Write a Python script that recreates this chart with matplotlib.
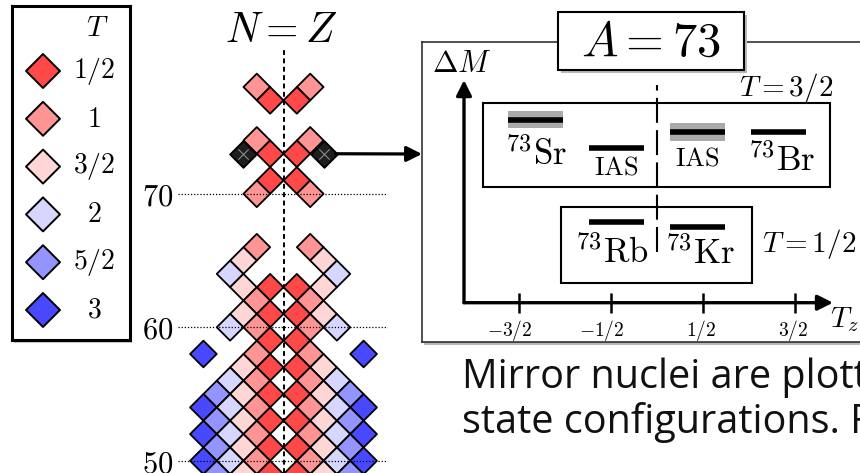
import numpy as np
import matplotlib.pyplot as plt
from matplotlib.patches import Rectangle

plt.rcParams['mathtext.fontset'] = 'cm'

# isospin chart: for each mass number A, the N-Z values drawn (N=Z cells left blank)
A_rows = [78, 77, 74, 73, 71, 70, 66, 65, 64, 63, 62, 61, 60, 59, 58, 57,
          56, 55, 54, 53, 52, 51, 50, 49]
nz_rows = [[-2, 2], [-1, 1], [-2, 2], [-1, 1], [-1, 1], [-2, 2],
           [-2, 2], [-3, 3], [-4, 4], [-3, -1, 1, 3], [-2, 2], [-3, -1, 1, 3],
           [-4, -2, 2, 4], [-1, 1], [-6, -2, 2, 6], [-3, -1, 1, 3],
           [-4, -2, 2, 4], [-5, -3, -1, 1, 3, 5], [-6, -4, -2, 2, 4, 6],
           [-5, -3, -1, 1, 3, 5], [-6, -4, -2, 2, 4, 6], [-5, -3, -1, 1, 3, 5],
           [-6, -4, -2, 2, 4, 6], [-5, -3, -1, 1, 3, 5]]
# highlighted pair 73Sr / 73Br
hl_nz = [-3, 3]
hl_A = [73, 73]

T_vals = [0.5, 1, 1.5, 2, 2.5, 3]
T_labels = ['1/2', '1', '3/2', '2', '5/2', '3']
T_colors = ['#ff4848', '#ff9494', '#ffd6d6', '#d6d6ff', '#9494ff', '#4848ff']
A_ticks = [50, 60, 70]

# A = 73 mass levels (Tz position, Delta M in arb. units, uncertainty)
lvl_names = [r'{}^{73}\mathrm{Sr}', r'\mathrm{IAS}', r'\mathrm{IAS}',
             r'{}^{73}\mathrm{Br}', r'{}^{73}\mathrm{Rb}', r'{}^{73}\mathrm{Kr}']
lvl_tz = [-1.32, -0.44, 0.44, 1.32, -0.44, 0.44]
lvl_dm = [1.99, 1.68, 1.853, 1.853, 0.88, 0.826]
lvl_err = [0.09, 0.0, 0.096, 0.0, 0.0, 0.0]
tz_ticks = [-1.5, -0.5, 0.5, 1.5]
tz_labels = ['$-3/2$', '$-1/2$', '$1/2$', '$3/2$']

W, H = 860, 473


def fbox(x0, y0, x1, y1):
    # pixel box (origin top left) -> figure fraction rect
    return [x0 / W, 1 - y1 / H, (x1 - x0) / W, (y1 - y0) / H]


fig = plt.figure(figsize=(W / 100, H / 100), dpi=100)

# ---- legend panel
shadow = Rectangle((14 / W, 1 - 343 / H), 118 / W, 334 / H, transform=fig.transFigure,
                   fc='#c8c8c8', ec='none', zorder=-1)
fig.add_artist(shadow)
axl = fig.add_axes(fbox(12, 6, 130, 340))
axl.set_xlim(-0.608, 1.706)
axl.set_ylim(5.628, -1.36)
idx = np.arange(len(T_vals))
s_leg = (34 * 72 / fig.dpi / np.sqrt(2)) ** 2
axl.scatter(np.zeros(len(idx)), idx, s=s_leg, marker='D', c=T_colors,
            edgecolors='k', linewidths=1.4)
for i, lab in enumerate(T_labels):
    axl.text(1, i, f'${lab}$', ha='center', va='center', fontsize=20)
axl.text(1.07, -0.9, '$T$', ha='center', va='center', fontsize=21)
axl.set_xticks([])
axl.set_yticks([])
for sp in axl.spines.values():
    sp.set_linewidth(2.2)

# ---- rotated nuclear chart
ax = fig.add_axes(fbox(178, 48, 388, 473))
ax.set_zorder(2)
k, cx, cy = 13.35, 283.5, 327.3
ax.set_xlim((178 - cx) / k, (388 - cx) / k)
ax.set_ylim(60 - (473 - cy) / k, 60 + (cy - 48) / k)
s_cell = (2 * k * 72 / fig.dpi / np.sqrt(2)) ** 2

cell_x = [x for row in nz_rows for x in row]
cell_A = [a for a, row in zip(A_rows, nz_rows) for _ in row]
cell_c = [T_colors[T_vals.index(abs(x) / 2)] for x in cell_x]
ax.scatter(cell_x, cell_A, s=s_cell, marker='D', c=cell_c, edgecolors='k',
           linewidths=1.3, zorder=2)
ax.scatter(hl_nz, hl_A, s=s_cell, marker='D', c='#1e1e1e', edgecolors='k',
           linewidths=1.3, zorder=2)
ax.scatter(hl_nz, hl_A, s=s_cell * 0.3, marker='x', c='#8a8a8a', linewidths=0.8, zorder=2)

ax.set_yticks(A_ticks)
ax.set_yticklabels([f'${a}$' for a in A_ticks], fontsize=22)
ax.set_xticks([])
ax.tick_params(axis='y', length=0, pad=3.5)
ax.set_axisbelow(False)
ax.grid(axis='y', color='k', ls=(0, (1, 1.5)), lw=0.9)
for sp in ax.spines.values():
    sp.set_visible(False)
ax.patch.set_visible(False)
ax.axvline(0, color='k', ls=(0, (2.5, 1.8)), lw=1.4, zorder=3)
fig.text(281 / W, 1 - 42 / H, '$N = Z$', ha='center', va='baseline', fontsize=30)

# ---- A = 73 panel
shadow_r = Rectangle((424 / W, 1 - 345 / H), 460 / W, 300 / H, transform=fig.transFigure,
                     fc='#b8b8b8', ec='none', zorder=-1)
fig.add_artist(shadow_r)
axr = fig.add_axes(fbox(422, 42, 880, 342))
u, ox, oy = 92, 657, 302.7
axr.set_xlim((422 - ox) / u, (880 - ox) / u)
axr.set_ylim((oy - 342) / u, (oy - 42) / u)
axr.set_xticks([])
axr.set_yticks([])
for sp in axr.spines.values():
    sp.set_linewidth(1.1)
    sp.set_color('#222222')

x0 = (464 - ox) / u
arr = dict(arrowstyle='-|>', lw=2.4, color='k', mutation_scale=23, shrinkA=0, shrinkB=0)
axr.annotate('', xy=(x0, 2.42), xytext=(x0, 0), arrowprops=arr)
axr.annotate('', xy=(1.913, 0), xytext=(x0, 0), arrowprops=arr)
axr.vlines(tz_ticks, -0.109, 0.109, colors='k', lw=1.8)
for t, lab in zip(tz_ticks, tz_labels):
    axr.text(t + 0.147, -0.297, lab, ha='right', va='center', fontsize=14)
axr.text(-2.446, 2.508, r'$\Delta M$', ha='left', va='baseline', fontsize=22)
axr.text(1.88, -0.264, '$T_z$', ha='left', va='baseline', fontsize=21)

axr.add_patch(Rectangle((-1.891, 1.258), 3.771, 0.913, fill=False, ec='k', lw=1.5))
axr.add_patch(Rectangle((-1.043, 0.214), 2.076, 0.826, fill=False, ec='k', lw=1.5))
axr.text(1.402, 2.247, '$T = 3/2$', ha='center', va='baseline', fontsize=21)
axr.text(1.141, 0.554, '$T = 1/2$', ha='left', va='baseline', fontsize=21)
axr.vlines(0, 0.551, 2.367, colors='k', lw=1.5, linestyles=[(0, (12, 3.5))])

tz = np.array(lvl_tz)
for t, m, e in zip(lvl_tz, lvl_dm, lvl_err):
    if e > 0:
        axr.bar(t, 2 * e, bottom=m - e, width=0.6, color='#aaaaaa')
axr.hlines(lvl_dm, tz - 0.3, tz + 0.3, colors='k', lw=4)
lab_dy = [-0.49, -0.29, -0.36, -0.42, -0.45, -0.41]
lab_dx = [0.0, 0.0, 0.0, 0.03, -0.05, 0.03]
lab_fs = [25, 19, 19, 25, 25, 25]
for t, m, name, dy, dx, fs in zip(lvl_tz, lvl_dm, lvl_names, lab_dy, lab_dx, lab_fs):
    axr.text(t + dx, m + dy, f'${name}$', ha='center', va='baseline', fontsize=fs)

# arrow from highlighted pair to the panel
ax.annotate('', xy=(0, (342 - 154) / 300), xycoords=axr.transAxes,
            xytext=(3.9, 73), textcoords='data', annotation_clip=False,
            arrowprops=dict(arrowstyle='-|>', lw=2.3, color='k', mutation_scale=23,
                            shrinkA=0, shrinkB=0))

# A = 73 title box
fig.add_artist(Rectangle((561 / W, 1 - 73 / H), 186 / W, 58 / H, transform=fig.transFigure,
                         fc='#b8b8b8', ec='none', zorder=4))
fig.add_artist(Rectangle((558 / W, 1 - 70 / H), 186 / W, 58 / H, transform=fig.transFigure,
                         fc='w', ec='k', lw=1.5, zorder=5))
fig.text(651 / W, 1 - 42 / H, '$A = 73$', ha='center', va='center', fontsize=35, zorder=6)

# slide text below
fig.text(462 / W, 1 - 388 / H, 'Mirror nuclei are plotted', fontsize=28.5,
         family='Open Sans', color='#111111', va='baseline')
fig.text(462 / W, 1 - 433 / H, 'state configurations. F', fontsize=28.5,
         family='Open Sans', color='#111111', va='baseline')

fig.savefig('out.png', dpi=100)
